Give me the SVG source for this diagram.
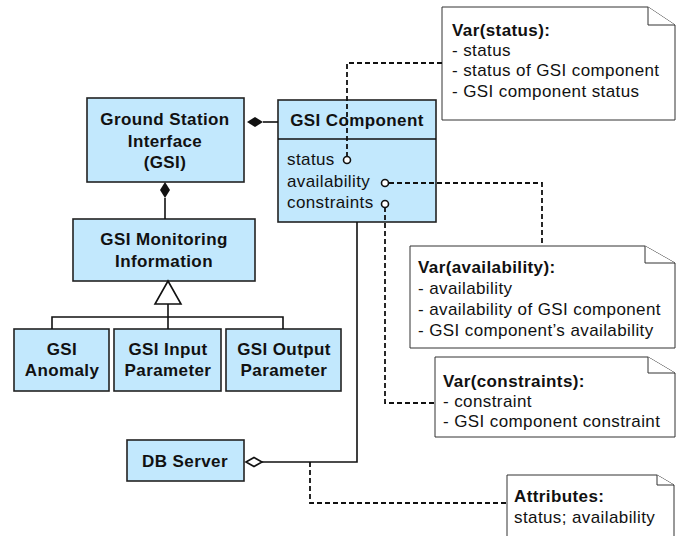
<svg xmlns="http://www.w3.org/2000/svg" width="683" height="536" viewBox="0 0 683 536">
<style>
.box{fill:#c2e8fd;stroke:#222;stroke-width:1.6}
.note{fill:#fff;stroke:#333;stroke-width:1}
.b{font-family:"Liberation Sans",Arial,sans-serif;font-weight:bold;font-size:17px;letter-spacing:0.4px;fill:#111;text-anchor:middle}
.t{font-family:"Liberation Sans",Arial,sans-serif;font-size:17px;letter-spacing:0.4px;fill:#111}
.tb{font-family:"Liberation Sans",Arial,sans-serif;font-size:17px;letter-spacing:0.4px;font-weight:bold;fill:#111}
.ln{fill:none;stroke:#111;stroke-width:1.6}
.dash{fill:none;stroke:#111;stroke-width:1.8;stroke-dasharray:5,3}
.port{fill:#fff;stroke:#111;stroke-width:1.6}
</style>
<rect width="683" height="536" fill="#fff"/>
<g id="gsi">
<rect class="box" x="87" y="98" width="157" height="84"/>
<text class="b" x="165" y="125">Ground Station</text>
<text class="b" x="165" y="147">Interface</text>
<text class="b" x="165" y="168">(GSI)</text>
</g>
<g id="gsi-component">
<rect class="box" x="278" y="100" width="158" height="122"/>
<line class="ln" x1="278" y1="139" x2="436" y2="139"/>
<text class="b" x="357" y="126">GSI Component</text>
<text class="t" x="287" y="165">status</text>
<text class="t" x="287" y="187">availability</text>
<text class="t" x="287" y="208">constraints</text>
</g>
<g id="gsi-monitoring">
<rect class="box" x="73" y="219" width="182" height="62"/>
<text class="b" x="164" y="245">GSI Monitoring</text>
<text class="b" x="164" y="267">Information</text>
</g>
<g id="gsi-anomaly">
<rect class="box" x="14" y="329" width="95" height="62"/>
<text class="b" x="62" y="355">GSI</text>
<text class="b" x="62" y="376">Anomaly</text>
</g>
<g id="gsi-input">
<rect class="box" x="114" y="329" width="107" height="62"/>
<text class="b" x="168" y="355">GSI Input</text>
<text class="b" x="168" y="376">Parameter</text>
</g>
<g id="gsi-output">
<rect class="box" x="226" y="329" width="115" height="62"/>
<text class="b" x="284" y="355">GSI Output</text>
<text class="b" x="284" y="376">Parameter</text>
</g>
<g id="db-server">
<rect class="box" x="127" y="440" width="117" height="41"/>
<text class="b" x="185" y="467">DB Server</text>
</g>
<g id="note-status">
<path class="note" d="M442,7 H648 L675,25 V120 H442 Z"/>
<path class="note" d="M648,7 V25 H675"/>
<text class="tb" x="452" y="36">Var(status):</text>
<text class="t" x="452" y="56">- status</text>
<text class="t" x="452" y="76">- status of GSI component</text>
<text class="t" x="452" y="97">- GSI component status</text>
</g>
<g id="note-availability">
<path class="note" d="M410,246 H645 L675,263 V348 H410 Z"/>
<path class="note" d="M645,246 V263 H675"/>
<text class="tb" x="418" y="273">Var(availability):</text>
<text class="t" x="418" y="294">- availability</text>
<text class="t" x="418" y="315">- availability of GSI component</text>
<text class="t" x="418" y="336">- GSI component’s availability</text>
</g>
<g id="note-constraints">
<path class="note" d="M435,357 H648 L675,373 V437 H435 Z"/>
<path class="note" d="M648,357 V373 H675"/>
<text class="tb" x="443" y="387">Var(constraints):</text>
<text class="t" x="443" y="407">- constraint</text>
<text class="t" x="443" y="427">- GSI component constraint</text>
</g>
<g id="note-attributes">
<path class="note" d="M507,475 H657 L674,485 V540 H507 Z"/>
<path class="note" d="M657,475 V485 H674"/>
<text class="tb" x="514" y="502">Attributes:</text>
<text class="t" x="514" y="523">status; availability</text>
</g>
<g id="connectors">
<line class="ln" x1="263" y1="122" x2="278" y2="122"/>
<path d="M247,122 L255,117 L263,122 L255,127 Z" fill="#111"/>
<line class="ln" x1="165" y1="198" x2="165" y2="219"/>
<path d="M165,182 L170,190 L165,198 L160,190 Z" fill="#111"/>
<path class="ln" d="M168,304 V329 M52,329 V317 H283 V329"/>
<path d="M168,281 L181,304 H155 Z" fill="#fff" stroke="#111" stroke-width="1.6"/>
<path class="ln" d="M357,222 V462 H262"/>
<path d="M246,462 L254,457.5 L262,462 L254,466.5 Z" fill="#fff" stroke="#111" stroke-width="1.6"/>
<path class="dash" d="M347,157 V63 H442"/>
<path class="dash" d="M389,183 H542 V246"/>
<path class="dash" d="M385,207 V403 H435"/>
<path class="dash" d="M310,462 V503 H507"/>
<circle class="port" cx="347" cy="160" r="3.5"/>
<circle class="port" cx="385" cy="183" r="3.5"/>
<circle class="port" cx="385" cy="204" r="3.5"/>
</g>
</svg>
